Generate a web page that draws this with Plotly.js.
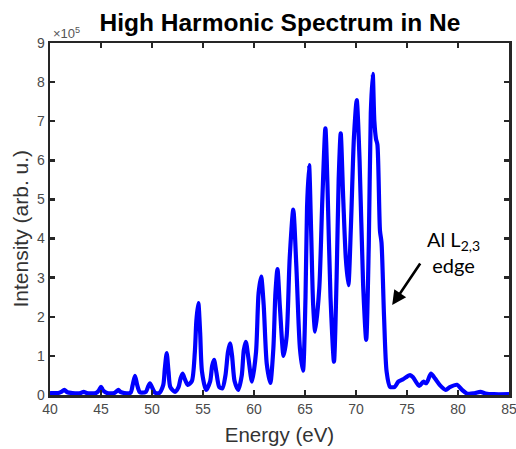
<!DOCTYPE html>
<html>
<head>
<meta charset="utf-8">
<script src="https://cdn.plot.ly/plotly-3.0.1.min.js"></script>
<style>html,body{margin:0;padding:0;background:#fff;}#chart{width:516px;height:449px;}</style>
</head>
<body>
<div id="chart"></div>
<script>
// Photon energy (eV)
const energy = [40.0,40.8,41.1,41.4,41.7,42.2,43.0,43.3,43.6,44.5,44.8,45.0,45.2,45.6,46.3,46.5,46.7,46.9,47.3,47.9,
48.1,48.33,48.55,48.8,49.0,49.4,49.6,49.8,50.0,50.3,50.7,51.1,51.25,51.44,51.62,51.8,52.25,52.6,52.8,53.0,
53.2,53.5,53.9,54.2,54.35,54.54,54.72,54.9,55.3,55.7,55.9,56.08,56.3,56.6,56.9,57.2,57.45,57.65,57.85,58.1,
58.46,58.8,59.0,59.2,59.45,59.8,60.2,60.45,60.7,60.95,61.25,61.6,61.9,62.1,62.3,62.55,62.9,63.2,63.5,63.85,
64.15,64.5,64.8,65.05,65.2,65.4,65.6,65.8,66.0,66.4,66.7,67.0,67.2,67.5,67.84,68.1,68.3,68.5,68.75,69.0,
69.25,69.5,69.8,70.07,70.35,70.7,71.0,71.25,71.45,71.64,71.8,71.96,72.1,72.35,72.5,72.75,73.0,73.33,73.8,74.15,
74.6,75.3,75.6,76.2,76.6,76.9,77.35,77.75,78.2,78.8,79.2,79.9,80.4,80.85,81.5,82.2,82.7,83.5,85.0];
// Intensity (x 10^5, arb. u.)
const intensity = [0.05,0.05,0.08,0.13,0.07,0.05,0.05,0.08,0.05,0.05,0.12,0.21,0.12,0.05,0.05,0.09,0.13,0.08,0.05,0.06,
0.25,0.49,0.25,0.07,0.06,0.08,0.2,0.3,0.2,0.06,0.05,0.25,0.65,1.07,0.6,0.2,0.08,0.2,0.42,0.55,
0.42,0.26,0.35,1.1,1.9,2.35,1.6,0.6,0.13,0.35,0.75,0.9,0.6,0.2,0.17,0.5,1.1,1.32,1.0,0.35,
0.13,0.5,1.15,1.36,0.95,0.34,1.1,2.6,3.03,2.3,0.8,0.31,1.2,2.6,3.22,2.2,1.0,1.5,3.5,4.74,
3.3,1.2,0.62,2.5,4.8,5.88,4.2,2.3,1.62,2.73,5.0,6.82,5.4,2.5,0.85,3.0,5.5,6.69,5.0,3.5,
2.81,4.3,6.6,7.54,6.0,2.8,1.41,3.8,7.2,8.21,7.0,6.55,6.4,4.2,3.9,2.0,0.6,0.21,0.21,0.34,
0.4,0.51,0.45,0.23,0.34,0.3,0.55,0.42,0.26,0.13,0.2,0.26,0.13,0.04,0.04,0.08,0.04,0.02,0.02];
const xTicks = [40,45,50,55,60,65,70,75,80,85];
const yTicks = [0,1,2,3,4,5,6,7,8,9];

const axisCommon = {
  showline: true, linecolor: '#262626', linewidth: 2.5, mirror: 'ticks',
  ticks: 'inside', ticklen: 5, tickwidth: 2.5, tickcolor: '#262626',
  showgrid: false, zeroline: false, ticklabeloverflow: 'allow',
  tickfont: {family: 'Liberation Sans, Arial, sans-serif', size: 14, color: '#4a4a4a'}
};

const trace = {
  x: energy, y: intensity, type: 'scatter', mode: 'lines',
  line: {color: '#0000ff', width: 4.2, shape: 'spline', smoothing: 0.7},
  hoverinfo: 'skip'
};

const layout = {
  width: 516, height: 449,
  margin: {l: 50, r: 7, t: 43, b: 54},
  paper_bgcolor: '#fff', plot_bgcolor: '#fff',
  showlegend: false,
  title: {text: '<b>High Harmonic Spectrum in Ne</b>', x: 0.5425, xanchor: 'center', y: 0.951, yanchor: 'middle',
    font: {family: 'Liberation Sans, Arial, sans-serif', size: 24.5, color: '#000'}},
  xaxis: Object.assign({}, axisCommon, {range: [40, 85], tickvals: xTicks,
    title: {text: 'Energy (eV)', standoff: 12, font: {family: 'Liberation Sans, Arial, sans-serif', size: 20.5, color: '#333'}}}),
  yaxis: Object.assign({}, axisCommon, {range: [0, 9], tickvals: yTicks}),
  annotations: [
    {xref: 'paper', yref: 'paper', x: 0, y: 0.473, xshift: -29, xanchor: 'center', yanchor: 'middle',
     textangle: -90, showarrow: false, text: 'Intensity (arb. u.)',
     font: {family: 'Liberation Sans, Arial, sans-serif', size: 21, color: '#333'}},
    {xref: 'paper', yref: 'paper', x: 0.003, y: 1.0, xanchor: 'left', yanchor: 'bottom', showarrow: false,
     text: '×10<sup>5</sup>', font: {family: 'Liberation Sans, Arial, sans-serif', size: 13, color: '#555'}},
    {x: 79.6, y: 3.66, xref: 'x', yref: 'y', showarrow: false, align: 'center',
     text: 'Al L<sub>2,3</sub><br>edge', font: {family: 'Lato, Open Sans, sans-serif', size: 20, color: '#000'}},
    {x: 73.55, y: 2.3, xref: 'x', yref: 'y', ax: 29, ay: -43, showarrow: true, text: '',
     arrowhead: 2, arrowsize: 1.1, arrowwidth: 2.6, arrowcolor: '#000'}
  ]
};

Plotly.newPlot('chart', [trace], layout, {staticPlot: true, displayModeBar: false});
</script>
</body>
</html>
